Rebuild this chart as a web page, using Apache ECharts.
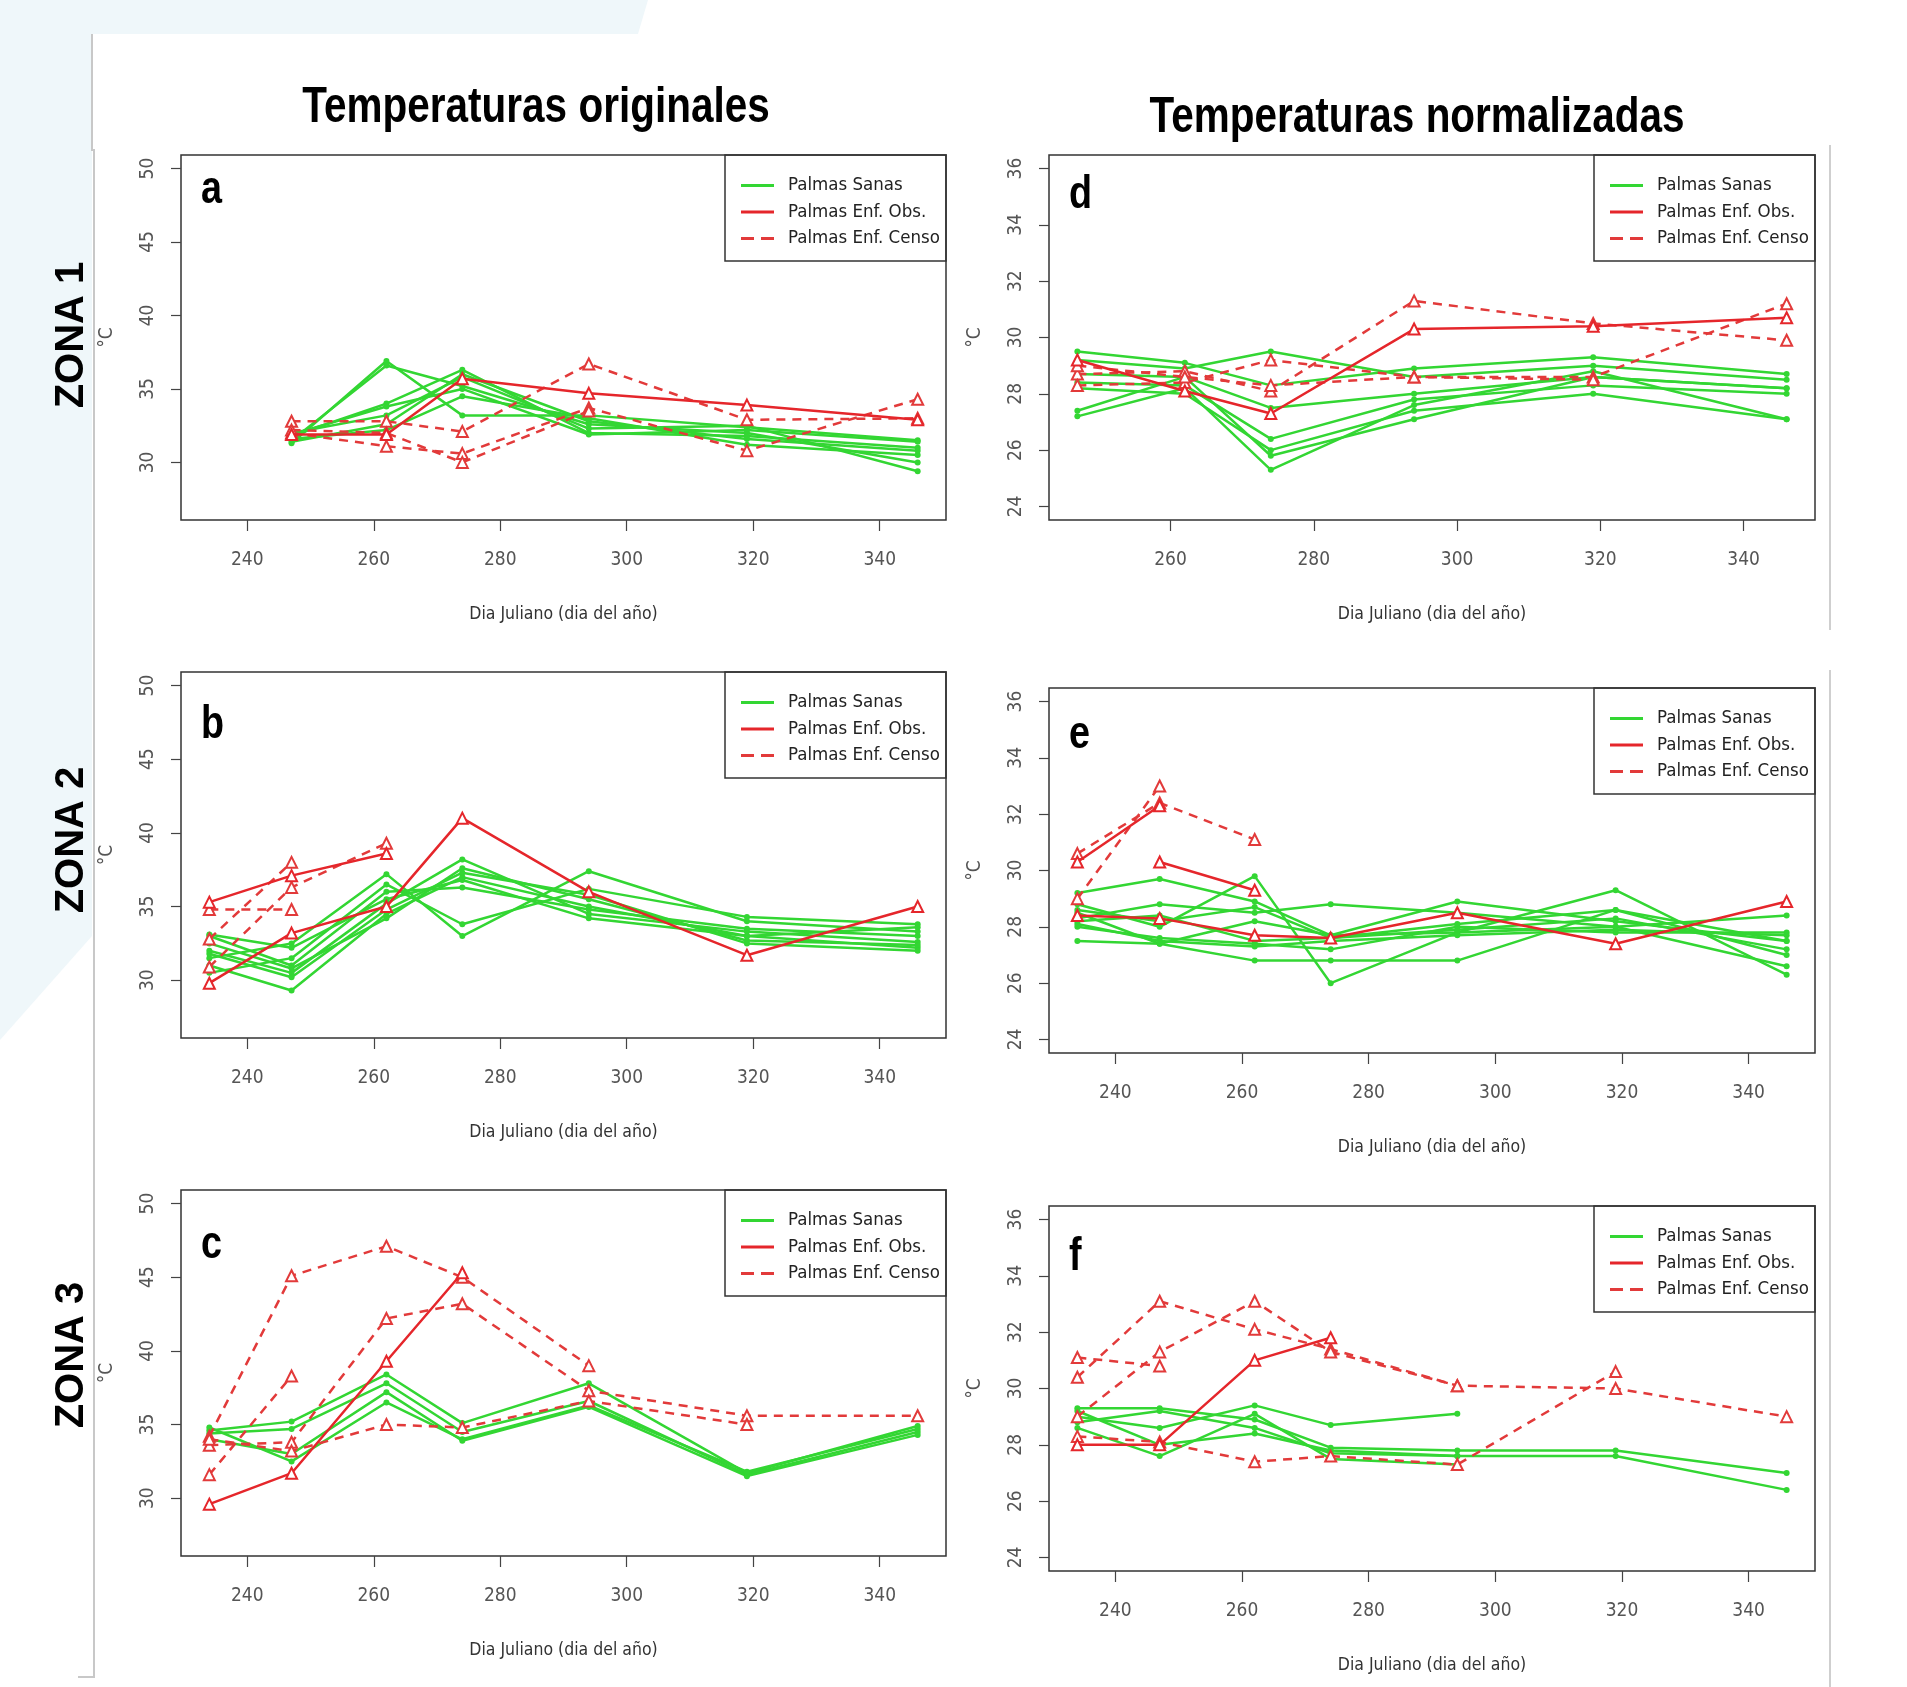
<!DOCTYPE html>
<html><head><meta charset="utf-8">
<script src="https://cdn.jsdelivr.net/npm/echarts@6/dist/echarts.min.js"></script>
<style>html,body{margin:0;padding:0;background:#fff}#c{width:1907px;height:1687px}</style>
</head><body><div id="c"></div>
<script>
// ---------- DATA ----------
const names = ['Palmas Sanas', 'Palmas Enf. Obs.', 'Palmas Enf. Censo'];
const daysShort = [247, 262, 274, 294, 319, 346];
const daysLong = [234, 247, 262, 274, 294, 319, 346];
const xTicksFull = [240, 260, 280, 300, 320, 340];
const xTicksD = [260, 280, 300, 320, 340];
const yTicksOrig = [30, 35, 40, 45, 50];
const yTicksNorm = [24, 26, 28, 30, 32, 34, 36];

// Panel a (Zona 1, originales)
const sanasA = [
  [31.3, 36.9, 33.2, 33.2, 32.4, 31.5],
  [31.5, 36.6, 35.2, 32.6, 32.0, 30.0],
  [31.8, 34.0, 36.3, 32.0, 31.8, 31.0],
  [32.0, 33.2, 35.8, 32.3, 32.5, 29.4],
  [31.6, 32.2, 34.5, 33.0, 31.2, 30.5],
  [31.9, 33.8, 35.0, 31.9, 32.2, 31.4],
  [31.4, 32.6, 36.0, 32.8, 31.6, 30.8]
];
const obsA = [[31.9, 31.9, 35.7, 34.7, 33.9, 32.9]];
const censoA = [
  [32.8, 32.8, 32.1, 36.7, 32.9, 33.0],
  [32.0, 31.1, 30.6, 33.7, 30.8, 34.3],
  [32.2, 32.0, 30.0, 33.5, null, null]
];

// Panel b (Zona 2, originales)
const sanasB = [
  [31.0, 29.3, 34.5, 37.0, 35.0, 33.0, 32.2],
  [32.0, 30.5, 35.2, 38.2, 34.5, 33.3, 32.6],
  [33.0, 31.0, 36.0, 36.3, 34.8, 33.5, 33.0],
  [31.5, 32.5, 37.2, 33.0, 37.4, 34.0, 33.3],
  [30.5, 31.5, 36.5, 33.8, 36.2, 34.3, 33.8],
  [32.5, 30.8, 34.2, 37.6, 35.5, 32.7, 32.4],
  [33.1, 32.2, 35.5, 36.8, 34.2, 33.0, 33.6],
  [31.8, 30.2, 34.8, 37.3, 35.8, 32.5, 32.0]
];
const obsB = [
  [35.3, 37.1, 38.6, null, null, null, null],
  [29.8, 33.2, 35.0, 41.0, 36.0, 31.7, 35.0]
];
const censoB = [
  [34.8, 34.8, null, null, null, null, null],
  [30.9, 36.3, 39.3, null, null, null, null],
  [32.8, 38.0, null, null, null, null, null]
];

// Panel c (Zona 3, originales)
const sanasC = [
  [34.6, 35.2, 38.4, 35.1, 37.8, 31.7, 34.9],
  [34.4, 34.7, 37.8, 34.5, 36.6, 31.6, 34.5],
  [34.0, 33.0, 37.2, 33.9, 36.2, 31.5, 34.3],
  [34.8, 32.5, 36.5, 34.0, 36.3, 31.8, 34.7]
];
const obsC = [[29.6, 31.7, 39.3, 45.3, null, null, null]];
const censoC = [
  [34.2, 45.1, 47.1, 45.0, 39.0, null, null],
  [31.6, 38.3, null, null, null, null, null],
  [33.6, 33.8, 42.2, 43.2, 37.3, 35.6, 35.6],
  [34.0, 33.2, 35.0, 34.8, 36.6, 35.0, null]
];

// Panel d (Zona 1, normalizadas)
const sanasD = [
  [29.5, 29.1, 28.3, 28.9, 29.3, 28.7],
  [29.2, 28.9, 29.5, 28.6, 29.0, 28.5],
  [28.7, 28.6, 27.5, 28.0, 28.6, 28.2],
  [28.4, 28.3, 26.4, 27.8, 28.3, 28.0],
  [28.2, 28.0, 26.0, 27.4, 28.0, 27.1],
  [27.4, 28.6, 25.8, 27.1, 28.6, 28.2],
  [27.2, 28.2, 25.3, 27.6, 28.8, 27.1]
];
const obsD = [[29.2, 28.1, 27.3, 30.3, 30.4, 30.7]];
const censoD = [
  [28.7, 28.8, 28.1, 31.3, 30.5, 29.9],
  [28.3, 28.4, 29.2, 28.6, 28.6, 31.2],
  [29.0, 28.6, 28.3, 28.6, 28.5, null]
];

// Panel e (Zona 2, normalizadas)
const sanasE = [
  [29.2, 29.7, 28.9, 27.7, 28.9, 28.2, 27.5],
  [28.8, 28.0, 29.8, 26.0, 27.8, 29.3, 26.3],
  [28.5, 27.4, 26.8, 26.8, 26.8, 28.6, 27.0],
  [28.3, 28.8, 28.5, 28.8, 28.5, 28.0, 28.4],
  [28.0, 27.6, 27.4, 27.2, 28.0, 27.8, 27.8],
  [27.5, 27.4, 28.2, 27.7, 27.8, 28.0, 26.6],
  [28.2, 28.4, 27.5, 27.6, 27.9, 28.3, 27.2],
  [28.6, 28.2, 28.7, 27.6, 28.1, 28.6, 27.5],
  [28.1, 27.5, 27.3, 27.5, 27.7, 27.9, 27.7]
];
const obsE = [
  [30.3, 32.3, null, null, null, null, null],
  [null, 30.3, 29.3, null, null, null, null],
  [28.4, 28.3, 27.7, 27.6, 28.5, 27.4, 28.9]
];
const censoE = [
  [30.6, 32.4, 31.1, null, null, null, null],
  [29.0, 33.0, null, null, null, null, null]
];

// Panel f (Zona 3, normalizadas)
const sanasF = [
  [29.3, 29.3, 28.9, 27.9, 27.8, 27.8, 27.0],
  [29.0, 28.6, 29.4, 28.7, 29.1, null, null],
  [28.8, 29.2, 28.6, 27.7, 27.6, 27.6, 26.4],
  [28.6, 27.6, 29.1, 27.5, 27.3, null, null],
  [29.2, 28.0, 28.4, 27.8, 27.6, null, null]
];
const obsF = [[28.0, 28.0, 31.0, 31.8, null, null, null]];
const censoF = [
  [31.1, 30.8, null, null, null, null, null],
  [30.4, 33.1, 32.1, 31.4, 30.1, 30.0, 29.0],
  [29.0, 31.3, 33.1, 31.3, 30.1, null, null],
  [28.3, 28.1, 27.4, 27.6, 27.3, 30.6, null]
];

// ---------- LAYOUT ----------
const COND = "'DejaVu Sans Condensed','Liberation Sans Narrow',sans-serif";
const ARIAL = "'Liberation Sans',Arial,sans-serif";
const GREEN = '#33d633', RED = '#e5262b', RED2 = '#e23a3a';
const panels = [
  {letter:'a', l:181, t:155, w:765, h:365, days:daysShort, xmin:229.52, xmax:350.48, xt:xTicksFull, ymin:26.08, ymax:50.92, yt:yTicksOrig, s:sanasA, o:obsA, c:censoA, ly:190},
  {letter:'b', l:181, t:672, w:765, h:366, days:daysLong, xmin:229.52, xmax:350.48, xt:xTicksFull, ymin:26.08, ymax:50.92, yt:yTicksOrig, s:sanasB, o:obsB, c:censoB, ly:725},
  {letter:'c', l:181, t:1190, w:765, h:366, days:daysLong, xmin:229.52, xmax:350.48, xt:xTicksFull, ymin:26.08, ymax:50.92, yt:yTicksOrig, s:sanasC, o:obsC, c:censoC, ly:1245},
  {letter:'d', l:1049, t:155, w:766, h:365, days:daysShort, xmin:243.04, xmax:349.96, xt:xTicksD, ymin:23.52, ymax:36.48, yt:yTicksNorm, s:sanasD, o:obsD, c:censoD, ly:195},
  {letter:'e', l:1049, t:688, w:766, h:365, days:daysLong, xmin:229.52, xmax:350.48, xt:xTicksFull, ymin:23.52, ymax:36.48, yt:yTicksNorm, s:sanasE, o:obsE, c:censoE, ly:735},
  {letter:'f', l:1049, t:1206, w:766, h:365, days:daysLong, xmin:229.52, xmax:350.48, xt:xTicksFull, ymin:23.52, ymax:36.48, yt:yTicksNorm, s:sanasF, o:obsF, c:censoF, ly:1257}
];

const grid = [], xAxis = [], yAxis = [], series = [], legend = [], graphic = [];

// background decorations
graphic.push({type:'polygon', z:-10, silent:true, shape:{points:[[0,0],[648,0],[638,34],[92,34],[92,936],[0,1040]]}, style:{fill:'#eff7fa'}});
graphic.push({type:'polyline', z:-5, silent:true, shape:{points:[[92,34],[92,150],[94,150],[94,1677],[78,1677]]}, style:{stroke:'#c8c8c8', lineWidth:2, fill:null}});
graphic.push({type:'line', z:-5, silent:true, shape:{x1:1830,y1:145,x2:1830,y2:630}, style:{stroke:'#cfcfcf', lineWidth:2}});
graphic.push({type:'line', z:-5, silent:true, shape:{x1:1830,y1:670,x2:1830,y2:1687}, style:{stroke:'#cfcfcf', lineWidth:2}});

// titles
graphic.push({type:'text', x:536, y:108, scaleX:0.81, style:{text:'Temperaturas originales', fontFamily:ARIAL, fontWeight:'bold', fontSize:50, fill:'#000', align:'center', verticalAlign:'middle'}});
graphic.push({type:'text', x:1417, y:118, scaleX:0.81, style:{text:'Temperaturas normalizadas', fontFamily:ARIAL, fontWeight:'bold', fontSize:50, fill:'#000', align:'center', verticalAlign:'middle'}});
[['ZONA 1',335],['ZONA 2',840],['ZONA 3',1355]].forEach(([t,y]) => {
  graphic.push({type:'text', x:72, y:y, rotation:Math.PI/2, style:{text:t, fontFamily:ARIAL, fontWeight:'bold', fontSize:40, fill:'#000', align:'center', verticalAlign:'middle'}});
});

function pts(days, vals){ return days.map((d,i)=>[d, vals[i]]).filter(p=>p[1]!==null && p[1]!==undefined); }

panels.forEach((p, gi) => {
  grid.push({left:p.l, top:p.t, width:p.w, height:p.h, show:true, borderColor:'#333', borderWidth:1.5, backgroundColor:'transparent'});
  xAxis.push({
    gridIndex:gi, type:'value', min:p.xmin, max:p.xmax,
    axisLine:{show:false}, splitLine:{show:false},
    axisTick:{show:true, length:11, customValues:p.xt, lineStyle:{color:'#444', width:1.2}},
    axisLabel:{customValues:p.xt, margin:31, fontSize:19, color:'#555', fontFamily:COND},
    name:'Dia Juliano (dia del año)', nameLocation:'middle', nameGap:85,
    nameTextStyle:{fontSize:17.5, color:'#333', fontFamily:COND}
  });
  yAxis.push({
    gridIndex:gi, type:'value', min:p.ymin, max:p.ymax,
    axisLine:{show:false}, splitLine:{show:false},
    axisTick:{show:true, length:10, customValues:p.yt, lineStyle:{color:'#444', width:1.2}},
    axisLabel:{customValues:p.yt, rotate:90, margin:23, fontSize:19, color:'#555', fontFamily:COND},
    name:'°C', nameLocation:'middle', nameGap:64, nameRotate:90,
    nameTextStyle:{fontSize:19, color:'#555', fontFamily:COND}
  });
  p.s.forEach(v => series.push({type:'line', name:names[0], xAxisIndex:gi, yAxisIndex:gi, data:pts(p.days, v), symbol:'circle', symbolSize:6, z:2,
    lineStyle:{color:GREEN, width:2.5}, itemStyle:{color:GREEN}, animation:false, emphasis:{disabled:true}}));
  p.c.forEach(v => series.push({type:'line', name:names[2], xAxisIndex:gi, yAxisIndex:gi, data:pts(p.days, v), symbol:'emptyTriangle', symbolSize:11, z:3,
    lineStyle:{color:RED2, width:2.5, type:[9,7]}, itemStyle:{color:RED2, borderWidth:1.6}, animation:false, emphasis:{disabled:true}}));
  p.o.forEach(v => series.push({type:'line', name:names[1], xAxisIndex:gi, yAxisIndex:gi, data:pts(p.days, v), symbol:'emptyTriangle', symbolSize:11, z:4,
    lineStyle:{color:RED, width:2.5}, itemStyle:{color:RED, borderWidth:1.6}, animation:false, emphasis:{disabled:true}}));
  // legend
  const lx = p.l + p.w - 221;
  graphic.push({type:'rect', z:5, silent:true, shape:{x:lx, y:p.t, width:221, height:106}, style:{fill:'rgba(0,0,0,0)', stroke:'#333', lineWidth:1.5}});
  legend.push({
    orient:'vertical', left:lx+16, top:p.t+21, padding:0, itemGap:7.5, itemWidth:33, itemHeight:3,
    selectedMode:false, symbolKeepAspect:false,
    textStyle:{fontSize:18.5, lineHeight:18.5, color:'#222', fontFamily:COND, padding:[0,0,0,9]},
    data:[
      {name:names[0], icon:'path://M0,0H33V3H0Z', itemStyle:{color:GREEN, borderWidth:0}},
      {name:names[1], icon:'path://M0,0H33V3H0Z', itemStyle:{color:RED, borderWidth:0}},
      {name:names[2], icon:'path://M0,0H13V3H0Z M20,0H33V3H20Z', itemStyle:{color:RED2, borderWidth:0}}
    ]
  });
  // panel letter
  graphic.push({type:'text', x:p.l+20, y:p.ly, scaleX:0.82, style:{text:p.letter, fontFamily:ARIAL, fontWeight:'bold', fontSize:46, fill:'#000', align:'left', verticalAlign:'middle'}});
});

const chart = echarts.init(document.getElementById('c'), null, {renderer:'canvas', width:1907, height:1687});
chart.setOption({backgroundColor:'#fff', animation:false, grid, xAxis, yAxis, series, legend, graphic});
</script></body></html>
